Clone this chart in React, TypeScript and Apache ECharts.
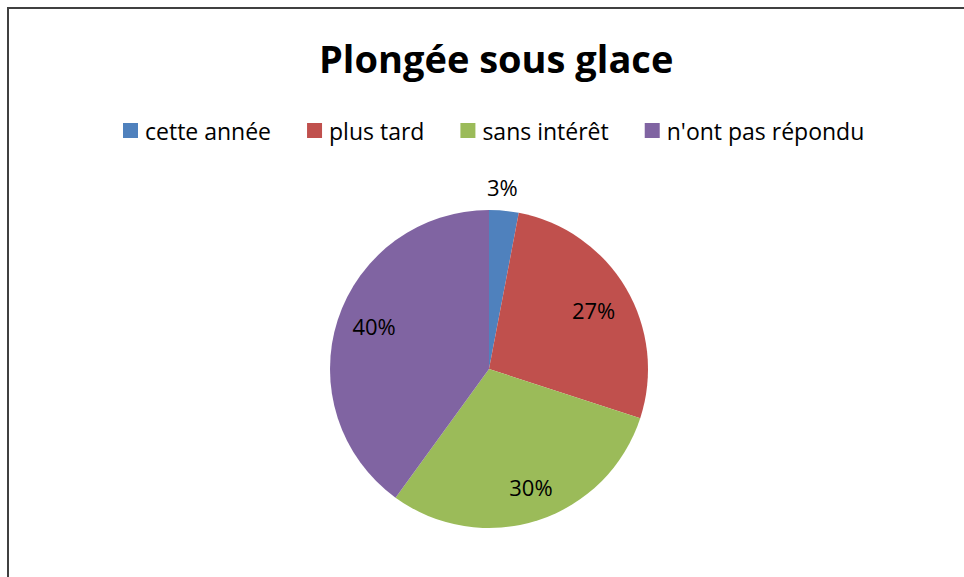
import React, { useEffect, useRef } from "react";
import * as echarts from "echarts";

const TITLE = "Plongée sous glace";
const categories = ["cette année", "plus tard", "sans intérêt", "n'ont pas répondu"];
const values = [3, 27, 30, 40];
const colors = ["#4F81BD", "#C0504D", "#9BBB59", "#8064A2"];
// label nudges (px) from the default inside position, to mimic Excel's best-fit placement
const labelNudges = [
  [5.5, -100],
  [33.6, -17.5],
  [16.4, 40],
  [-36.4, -17.4],
];

const FONT = "'Open Sans', 'Noto Sans', sans-serif";

export default function App() {
  const ref = useRef<HTMLDivElement>(null);
  useEffect(() => {
    if (!ref.current) return;
    const chart = echarts.init(ref.current, undefined, { renderer: "svg" });
    chart.setOption({
      animation: false,
      backgroundColor: "#ffffff",
      color: colors,
      title: {
        text: TITLE,
        left: 319,
        top: 39,
        padding: 0,
        textStyle: {
          fontFamily: FONT,
          fontWeight: "bold",
          fontSize: 38,
          color: "#000000",
        },
      },
      legend: {
        left: 123,
        top: 119,
        padding: 0,
        itemWidth: 15,
        itemHeight: 15,
        itemGap: 36,
        icon: "rect",
        data: categories,
        textStyle: {
          fontFamily: FONT,
          fontSize: 23,
          color: "#000000",
          padding: [0, 0, 0, 2],
        },
        selectedMode: false,
      },
      graphic: [
        {
          type: "rect",
          shape: { x: 8, y: 8, width: 1000, height: 700 },
          style: { fill: "none", stroke: "#404040", lineWidth: 2 },
          silent: true,
          z: 100,
        },
      ],
      series: [
        {
          type: "pie",
          center: [489, 369],
          radius: [0, 159],
          startAngle: 90,
          clockwise: true,
          avoidLabelOverlap: false,
          label: {
            show: true,
            position: "inside",
            formatter: (p: any) => `${Math.round(p.percent)}%`,
            fontFamily: FONT,
            fontSize: 22,
            color: "#000000",
          },
          labelLine: { show: false },
          labelLayout: (params: any) => {
            const n = labelNudges[params.dataIndex] || [0, 0];
            return { dx: n[0], dy: n[1] };
          },
          itemStyle: { borderWidth: 0 },
          emphasis: { disabled: true },
          data: categories.map((name, i) => ({ name, value: values[i] })),
        },
      ],
    });
    return () => chart.dispose();
  }, []);
  return (
    <div
      ref={ref}
      style={{ position: "fixed", left: 0, top: 0, width: 964, height: 577 }}
    />
  );
}
